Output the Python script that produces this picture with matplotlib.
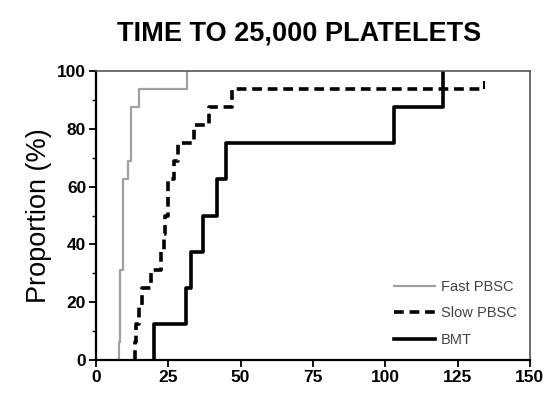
import numpy as np
import matplotlib
matplotlib.use("Agg")
import matplotlib.pyplot as plt

plt.rcParams['font.family'] = ['Liberation Sans', 'DejaVu Sans']

#Step curves: day of each event and the proportion reached at that day
fast_days = [8, 8.5, 9.5, 11, 12, 15, 31.5]
fast_prop = [6.25, 31.25, 62.5, 68.75, 87.5, 93.75, 100]

slow_days = [13.5, 14, 15, 16, 19, 22.5, 23.5, 24, 25, 27, 28.5, 34, 39, 47]
slow_prop = [6.25, 12.5, 18.75, 25, 31.25, 37.5, 43.75, 50, 62.5, 68.75,
             75, 81.25, 87.5, 93.75]
slow_censor_day = 134

bmt_days = [20, 31, 33, 37, 42, 45, 103, 120]
bmt_prop = [12.5, 25, 37.5, 50, 62.5, 75, 87.5, 100]

x_ticks = [0, 25, 50, 75, 100, 125, 150]
y_ticks = [0, 20, 40, 60, 80, 100]


#Build x,y for a step curve, rising from 0 at the first event
#and running flat to an end day after the last one
def step_xy(days, prop, end):
  x = [days[0]] + list(days) + [end]
  y = [0] + list(prop) + [prop[-1]]
  return x, y


fig = plt.figure(figsize=(5.48, 3.93), dpi=100)
ax = fig.add_axes([0.175, 0.084, 0.792, 0.735])

x, y = step_xy(fast_days, fast_prop, fast_days[-1])
ax.step(x, y, where='post', color='#a0a0a0', lw=1.6, label='Fast PBSC')

x, y = step_xy(slow_days, slow_prop, slow_censor_day)
ax.step(x, y, where='post', color='black', lw=2.6, dashes=(2.7, 1.6),
        label='Slow PBSC')
ax.plot([slow_censor_day], [slow_prop[-1]], marker=2, color='black',
        markersize=6, mew=1.5)

x, y = step_xy(bmt_days, bmt_prop, bmt_days[-1])
ax.step(x, y, where='post', color='black', lw=2.6, label='BMT')

ax.set_xlim(0, 150)
ax.set_ylim(0, 100)
ax.set_xticks(x_ticks)
ax.set_yticks(y_ticks)
ax.set_yticks(np.arange(10, 100, 20), minor=True)
ax.tick_params(axis='both', which='major', direction='out', length=5,
               width=1.3, labelsize=12.5, pad=2)
ax.tick_params(axis='y', which='minor', direction='out', length=3, width=1.0)
for lab in ax.get_xticklabels() + ax.get_yticklabels():
  lab.set_fontweight('bold')

ax.spines['left'].set_linewidth(1.6)
ax.spines['bottom'].set_linewidth(1.6)
ax.spines['top'].set_color('#555555')
ax.spines['right'].set_color('#555555')
ax.spines['top'].set_linewidth(1.2)
ax.spines['right'].set_linewidth(1.2)

ax.set_ylabel('Proportion (%)', fontsize=19.5, labelpad=4)
fig.text(0.546, 0.915, 'TIME TO 25,000 PLATELETS', ha='center', va='center',
         fontsize=19.5, fontweight='bold')

leg = ax.legend(loc='lower right', frameon=False, fontsize=10.5,
                handlelength=2.8, handletextpad=0.4, labelspacing=0.85,
                bbox_to_anchor=(1.0, 0.0))
for t in leg.get_texts():
  t.set_color('#444444')

fig.savefig('out.png', dpi=100)
